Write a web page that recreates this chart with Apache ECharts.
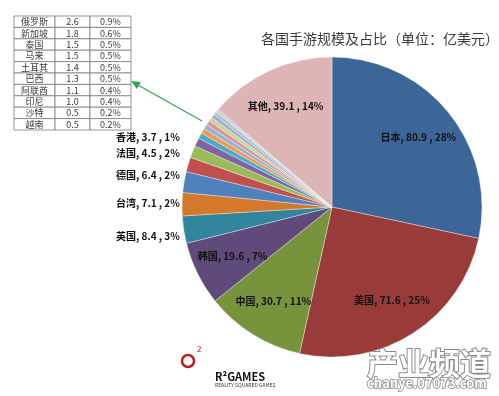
<!DOCTYPE html>
<html><head><meta charset="utf-8">
<script src="https://cdn.jsdelivr.net/npm/echarts@6/dist/echarts.min.js"></script>
<style>html,body{margin:0;padding:0;background:#fff}#c{width:499px;height:396px}</style>
</head><body><div id="c"></div>
<script>
// ---- data ----
const categories = ['日本','美国','中国','韩国','英国','台湾','德国','法国','香港','俄罗斯','新加坡','泰国','马来','土耳其','巴西','阿联酋','印尼','沙特','越南','其他'];
const values = [80.9,71.6,30.7,19.6,8.4,7.1,6.4,4.5,3.7,2.6,1.8,1.5,1.5,1.4,1.3,1.1,1.0,0.5,0.5,39.1];
const tableNames = ['俄罗斯','新加坡','泰国','马来','土耳其','巴西','阿联酋','印尼','沙特','越南'];
const tableValues = [2.6,1.8,1.5,1.5,1.4,1.3,1.1,1.0,0.5,0.5];
const titleText = '各国手游规模及占比（单位：亿美元）';

// ---- style ----
const colors = ['#3C6598','#983B39','#77933C','#604A7B','#31859C','#D4782C',
  '#4F81BD','#C0504D','#9BBB59','#8064A2','#4BACC6','#F79646',
  '#95B3D7','#D99694','#C3D69B','#B3A2C7','#93CDDD','#FAC090','#A9C4E6','#DDB5B4'];
const FONT = '"Noto Sans CJK SC", "Noto Sans", sans-serif';
const total = values.reduce((a,b)=>a+b,0);
const fmt = p => p.name + ', ' + p.value.toFixed(1) + ' , ' + Math.round(p.value/total*100) + '%';

const outerData = categories.map((n,i)=>({
  name:n, value:values[i],
  label:{show: values[i] > 3 && values[i] <= 15}
}));
const innerData = categories.map((n,i)=>({
  name:n, value:values[i],
  label:{show: values[i] > 15}
}));

// table graphic
const tbl = {x:14, y:16, colW:[41,35,41], rowH:11.4};
const tableEls = [];
tableNames.forEach((n,r)=>{
  const cells = [n, tableValues[r].toFixed(1), (tableValues[r]/total*100).toFixed(1)+'%'];
  let x = tbl.x;
  cells.forEach((t,c)=>{
    const w = tbl.colW[c];
    const y = tbl.y + r*tbl.rowH;
    tableEls.push({type:'rect', shape:{x:x, y:y, width:w, height:tbl.rowH},
      style:{fill:'#fff', stroke:'#7a7a7a', lineWidth:0.8}, silent:true});
    tableEls.push({type:'text', x:x+w/2, y:y+tbl.rowH/2,
      style:{text:t, fill:'#3a3a3a', font:'9px '+FONT, align:'center', verticalAlign:'middle'}, silent:true});
    x += w;
  });
});

// arrow
const a0 = [202,121], a1 = [131,81];
const dx = a1[0]-a0[0], dy = a1[1]-a0[1], L = Math.hypot(dx,dy);
const ux = dx/L, uy = dy/L;
const bx = a1[0]-ux*9, by = a1[1]-uy*9;
const px = -uy*4, py = ux*4;
const arrowEls = [
  {type:'line', shape:{x1:a0[0], y1:a0[1], x2:bx, y2:by}, style:{stroke:'#2FA552', lineWidth:1.2}, silent:true},
  {type:'polygon', shape:{points:[a1,[bx+px,by+py],[bx-px,by-py]]}, style:{fill:'#2FA552'}, silent:true}
];

const chart = echarts.init(document.getElementById('c'));
chart.setOption({
  animation:false,
  backgroundColor:'#fff',
  color: colors,
  title:{text:titleText, left:256, top:27,
    textStyle:{fontFamily:FONT, fontSize:14, fontWeight:'normal', color:'#3a3a3a'}},
  series:[
    {type:'pie', center:[332,207], radius:150, startAngle:90, clockwise:true,
     avoidLabelOverlap:true,
     itemStyle:{borderColor:'rgba(255,255,255,0.6)', borderWidth:0.6},
     label:{position:'outside', alignTo:'edge', edgeDistance:116, formatter:fmt, color:'#111',
       fontFamily:FONT, fontSize:10, fontWeight:'bold'},
     labelLine:{show:false, length:40, length2:-48},
     data: outerData},
    {type:'pie', center:[332,207], radius:[66,150], startAngle:90, clockwise:true,
     silent:true, itemStyle:{color:'rgba(0,0,0,0)'},
     label:{position:'inside', formatter:fmt, color:'#111',
       fontFamily:FONT, fontSize:10, fontWeight:'bold'},
     labelLine:{show:false},
     data: innerData}
  ],
  graphic: [
    ...tableEls,
    ...arrowEls,
    {type:'circle', shape:{cx:188, cy:361, r:6}, style:{fill:'none', stroke:'#C8191E', lineWidth:2.5}, silent:true},
    {type:'text', x:197, y:345, style:{text:'2', fill:'#C8191E', font:'8px '+FONT}, silent:true},
    {type:'text', x:215, y:371, style:{text:'R²GAMES', fill:'#111', font:'bold 11px '+FONT}, silent:true},
    {type:'text', x:215, y:383, style:{text:'REALITY SQUARED GAMES', fill:'#333', font:'5px '+FONT}, silent:true},
    {type:'text', x:367, y:348, style:{text:'产业频道', fill:'#fff', stroke:'#8a8a8a', lineWidth:2, font:'bold 31px '+FONT}, silent:true},
    {type:'text', x:367, y:377, style:{text:'chanye.07073.com', fill:'#fff', stroke:'#8a8a8a', lineWidth:1.6, font:'bold 13px '+FONT}, silent:true}
  ]
});
</script></body></html>
